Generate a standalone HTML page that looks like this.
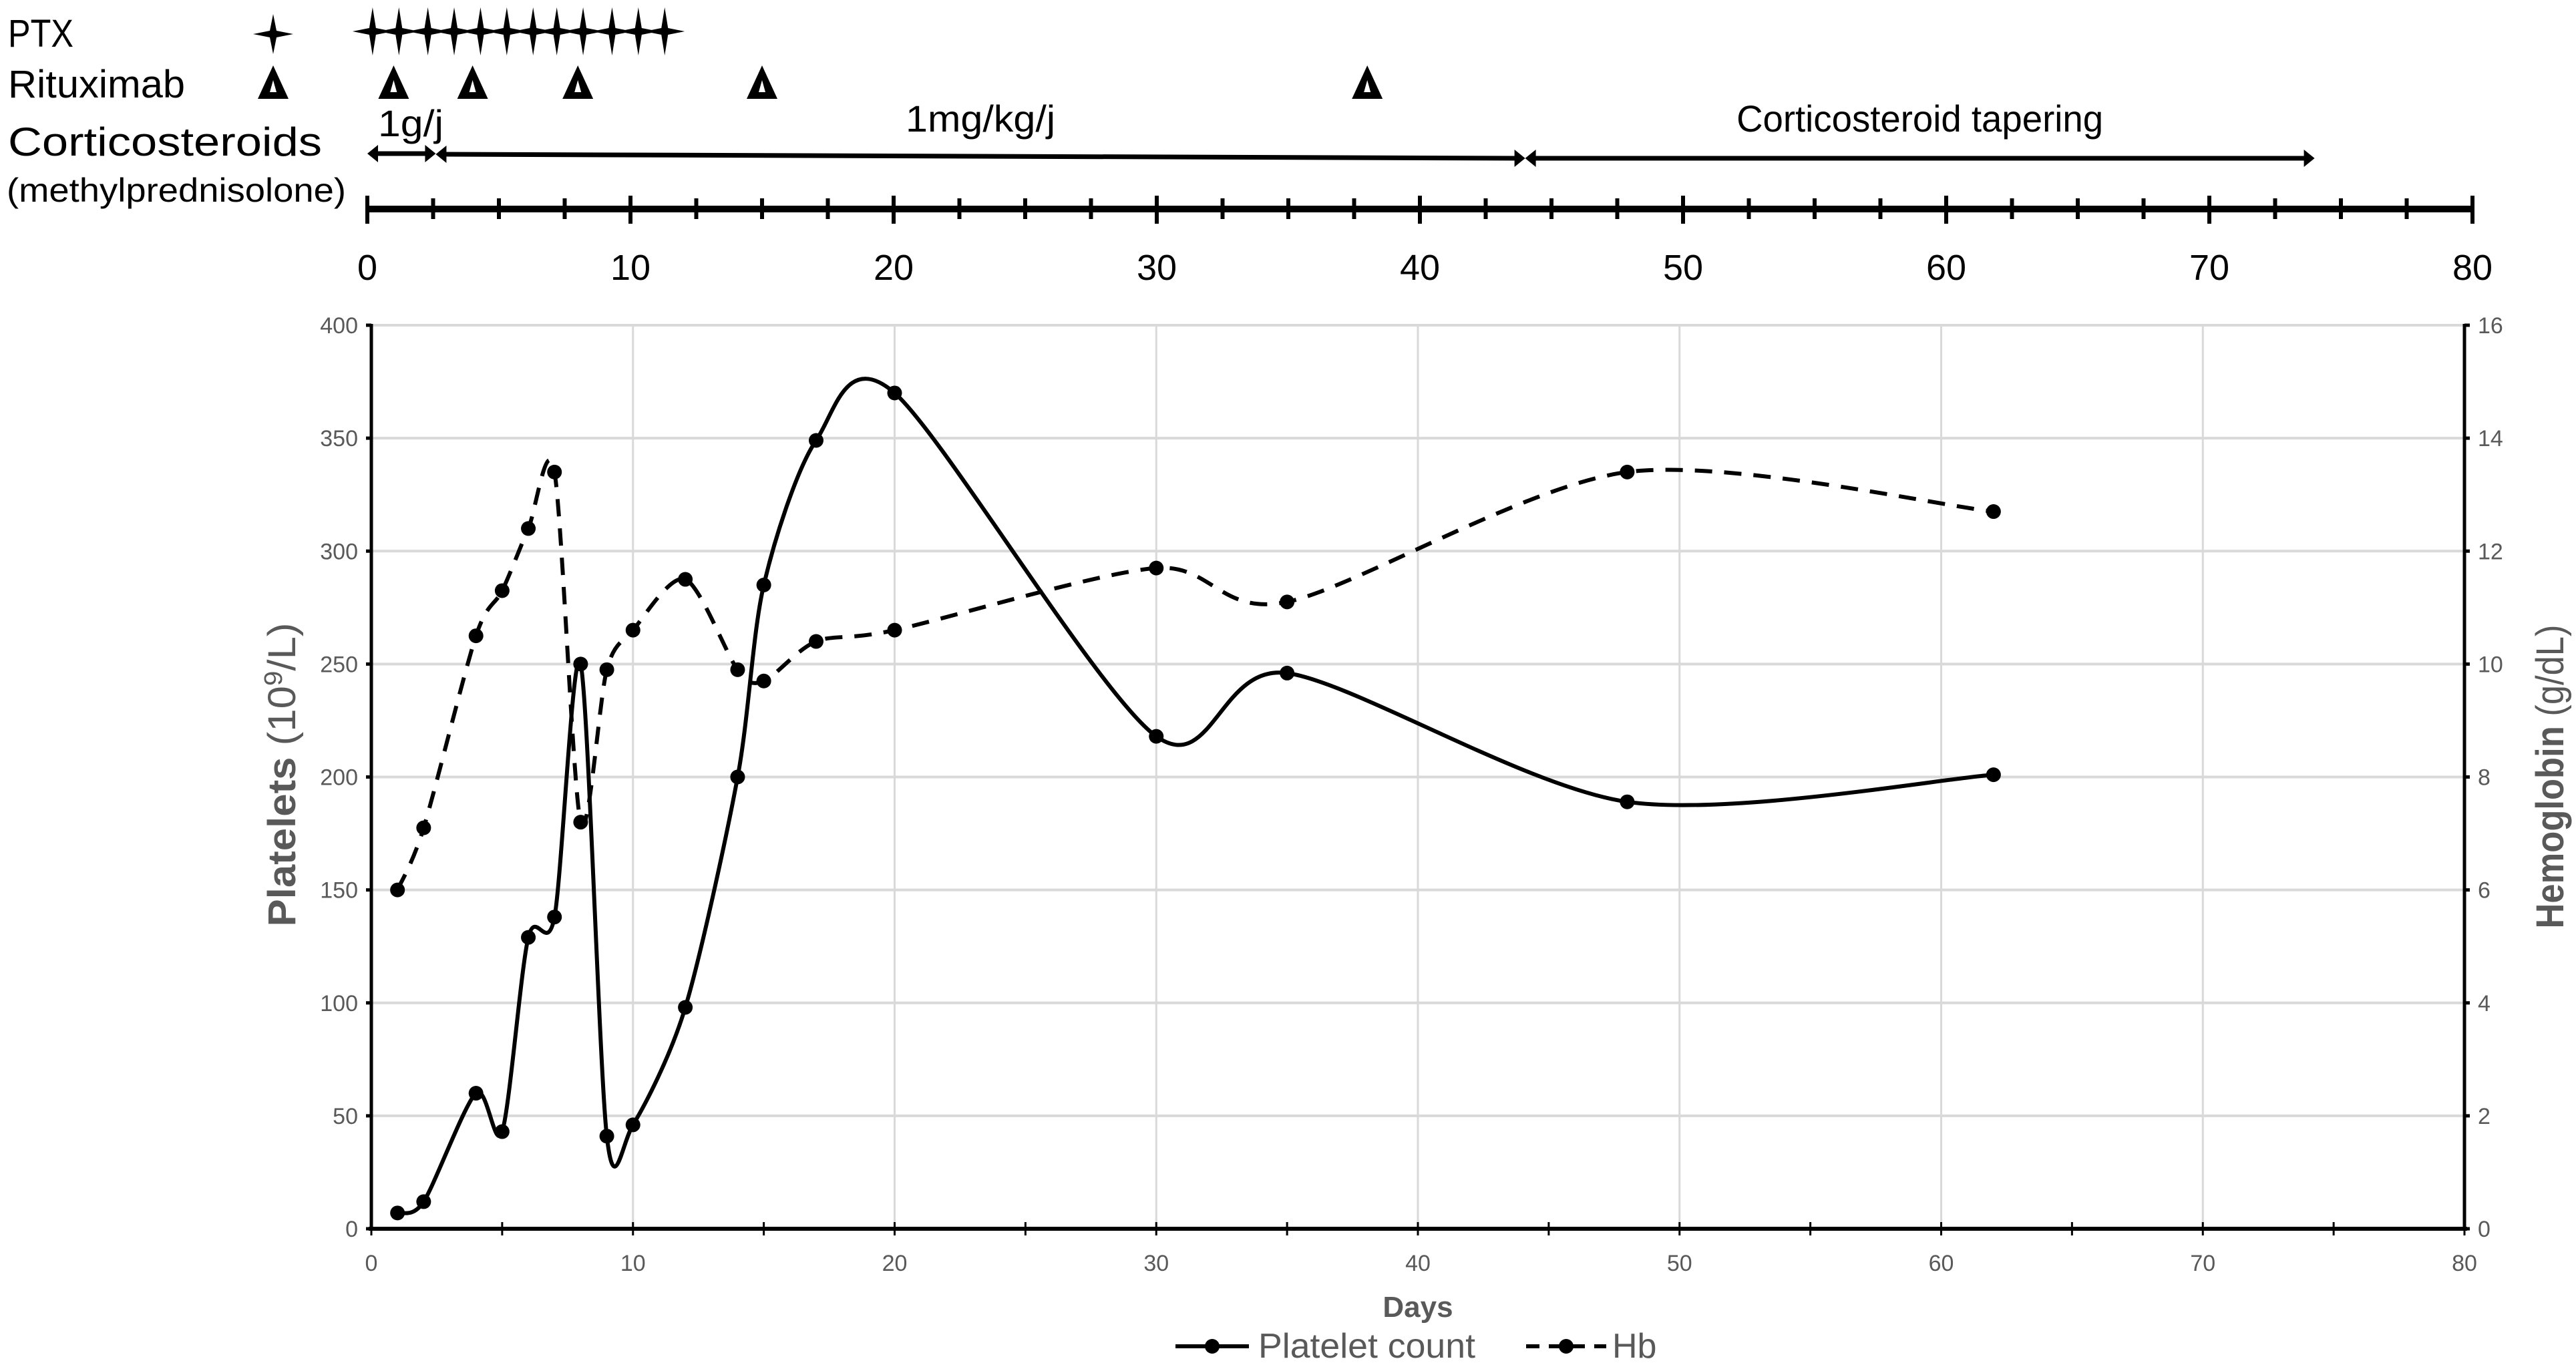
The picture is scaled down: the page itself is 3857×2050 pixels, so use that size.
<!DOCTYPE html>
<html><head><meta charset="utf-8">
<style>
html,body{margin:0;padding:0;background:#fff;}
svg{display:block;font-family:"Liberation Sans",sans-serif;}
</style></head>
<body>
<svg id="chart" width="3857" height="2050" viewBox="0 0 3857 2050" xmlns="http://www.w3.org/2000/svg">
<g id="topTimeline"></g>
<g id="mainChart"></g>
</svg>
<script>
const days = [1,2,4,5,6,7,8,9,10,12,14,15,17,20,30,35,48,62];
const platelets = [7,12,60,43,129,138,250,41,46,98,200,285,349,370,218,246,189,201];
const hb = [6,7.1,10.5,11.3,12.4,13.4,7.2,9.9,10.6,11.5,9.9,9.7,10.4,10.6,11.7,11.1,13.4,12.7];
const ptxDays = [0.2,1.2,2.3,3.3,4.3,5.3,6.3,7.2,8.2,9.3,10.3,11.3];
const rituximabDays = [1,4,8,15,38];
const steroidPhases = [[0,2.6,"1g/j"],[2.6,44,"1mg/kg/j"],[44,74,"Corticosteroid tapering"]];
const xTicks = [0,10,20,30,40,50,60,70,80];
const leftTicks = [0,50,100,150,200,250,300,350,400];
const rightTicks = [0,2,4,6,8,10,12,14,16];

const NS="http://www.w3.org/2000/svg";
function mk(parent,tag,attrs,text){const el=document.createElementNS(NS,tag);for(const k in attrs)el.setAttribute(k,attrs[k]);if(text!==undefined)el.textContent=text;parent.appendChild(el);return el;}
const topG=document.getElementById('topTimeline'), mainG=document.getElementById('mainChart');

// ---- Top timeline ----
const tx=d=>550+d*39.4;
let e;
e=mk(topG,'text',{x:12,y:70,'font-size':58,textLength:98,lengthAdjust:'spacingAndGlyphs'},'PTX');


e=mk(topG,'text',{x:12,y:146,'font-size':58,textLength:265,lengthAdjust:'spacingAndGlyphs'},'Rituximab');


e=mk(topG,'text',{x:12,y:233,'font-size':60,textLength:470,lengthAdjust:'spacingAndGlyphs'},'Corticosteroids');


e=mk(topG,'text',{x:10,y:302,'font-size':50,textLength:508,lengthAdjust:'spacingAndGlyphs'},'(methylprednisolone)');



function star(cx,cy,h,w){return `M${cx},${cy-h} L${cx+5},${cy-5} L${cx+w},${cy} L${cx+5},${cy+5} L${cx},${cy+h} L${cx-5},${cy+5} L${cx-w},${cy} L${cx-5},${cy-5}Z`;}
function tri(cx){return `M${cx},98 L${cx+23},148 L${cx-23},148Z M${cx},120 L${cx-5},138 L${cx+5},138Z`;}
e=mk(topG,'path',{d:star(409,51,30,30),fill:'#000'});


ptxDays.forEach(d=>{const s=mk(topG,'path',{d:star(tx(d),47,36,30),fill:'#000'});

});
e=mk(topG,'path',{d:tri(409),fill:'#000','fill-rule':'evenodd'});


rituximabDays.forEach(d=>{const s=mk(topG,'path',{d:tri(tx(d)),fill:'#000','fill-rule':'evenodd'});

});

const phaseLabelW=[98,224,549];
steroidPhases.forEach((p,i)=>{
  const x1=tx(p[0]),x2=tx(p[1]);
  const y1=i==0?230:(i==1?231:237), y2=i==0?230:237;
  const g=mk(topG,'g',{});
  
  
  mk(g,'line',{x1:x1+14,y1:y1,x2:x2-14,y2:y2,stroke:'#000','stroke-width':7});
  mk(g,'path',{d:`M${x1},${y1} L${x1+16},${y1-13} L${x1+16},${y1+13}Z`,fill:'#000'});
  mk(g,'path',{d:`M${x2},${y2} L${x2-16},${y2-13} L${x2-16},${y2+13}Z`,fill:'#000'});
  const lx=i==0?615:(x1+x2)/2;
  const t=mk(topG,'text',{x:lx,y:i==0?204:197,'font-size':56,'text-anchor':'middle',textLength:phaseLabelW[i],lengthAdjust:'spacingAndGlyphs'},p[2]);
  
  
});
e=mk(topG,'line',{x1:tx(0)-3,y1:313,x2:tx(80)+3,y2:313,stroke:'#000','stroke-width':10});


for(let d=0;d<=80;d+=2.5){
  const maj=d%10===0;
  const t=mk(topG,'line',{x1:tx(d),y1:maj?293:297,x2:tx(d),y2:maj?335:328,stroke:'#000','stroke-width':6});
  
  
}
xTicks.forEach(d=>{const t=mk(topG,'text',{x:tx(d),y:419,'font-size':54,'text-anchor':'middle'},String(d));

});

// ---- Main chart ----
const X0=556,X1=3690,Y0=1840,Y1=487;
const sx=d=>X0+d/80*(X1-X0);
const syL=v=>Y0-v/400*(Y0-Y1);
const syR=v=>Y0-v/16*(Y0-Y1);
xTicks.forEach(d=>{if(d>0){const l=mk(mainG,'line',{x1:sx(d),y1:Y1,x2:sx(d),y2:Y0,stroke:'#d9d9d9','stroke-width':3});

}});
leftTicks.forEach(v=>{if(v>0){const l=mk(mainG,'line',{x1:X0,y1:syL(v),x2:X1,y2:syL(v),stroke:'#d9d9d9','stroke-width':4});

}});
e=mk(mainG,'line',{x1:X0,y1:Y1-2,x2:X0,y2:Y0,stroke:'#000','stroke-width':5});


e=mk(mainG,'line',{x1:X1,y1:Y1-2,x2:X1,y2:Y0,stroke:'#000','stroke-width':5});


e=mk(mainG,'line',{x1:X0-4,y1:Y0,x2:X1+4,y2:Y0,stroke:'#000','stroke-width':6});


leftTicks.forEach(v=>{mk(mainG,'line',{x1:X0-8,y1:syL(v),x2:X0,y2:syL(v),stroke:'#000','stroke-width':5});
const t=mk(mainG,'text',{x:X0-20,y:syL(v)+12,'font-size':34,fill:'#595959','text-anchor':'end'},String(v));

});
rightTicks.forEach(v=>{mk(mainG,'line',{x1:X1,y1:syR(v),x2:X1+8,y2:syR(v),stroke:'#000','stroke-width':5});
const t=mk(mainG,'text',{x:X1+20,y:syR(v)+12,'font-size':34,fill:'#595959'},String(v));

});
for(let d=0;d<=80;d+=5){mk(mainG,'line',{x1:sx(d),y1:Y0-10,x2:sx(d),y2:Y0+10,stroke:'#000','stroke-width':3});}
xTicks.forEach(d=>{const t=mk(mainG,'text',{x:sx(d),y:1903,'font-size':34,fill:'#595959','text-anchor':'middle'},String(d));

});
e=mk(mainG,'text',{x:(X0+X1)/2,y:1972,'font-size':44,'font-weight':'bold',fill:'#595959','text-anchor':'middle'},'Days');


e=mk(mainG,'text',{transform:'translate(442,1160) rotate(-90)','font-size':58,fill:'#595959','text-anchor':'middle',textLength:455,lengthAdjust:'spacingAndGlyphs'});


mk(e,'tspan',{'font-weight':'bold'},'Platelets');
mk(e,'tspan',{},' (10');
mk(e,'tspan',{'font-size':38,dy:-20},'9');
mk(e,'tspan',{dy:20},'/L)');
e=mk(mainG,'text',{transform:'translate(3838,1163) rotate(-90)','font-size':58,fill:'#595959','text-anchor':'middle',textLength:455,lengthAdjust:'spacingAndGlyphs'});


mk(e,'tspan',{'font-weight':'bold'},'Hemoglobin');
mk(e,'tspan',{},' (g/dL)');

function smooth(pts){
  const k=7;
  let d=`M${pts[0][0]},${pts[0][1]}`;
  for(let i=0;i<pts.length-1;i++){
    const p0=pts[Math.max(0,i-1)],p1=pts[i],p2=pts[i+1],p3=pts[Math.min(pts.length-1,i+2)];
    const c1=[p1[0]+(p2[0]-p0[0])/k,p1[1]+(p2[1]-p0[1])/k];
    const c2=[p2[0]-(p3[0]-p1[0])/k,p2[1]-(p3[1]-p1[1])/k];
    d+=` C${c1[0]},${c1[1]} ${c2[0]},${c2[1]} ${p2[0]},${p2[1]}`;
  }
  return d;
}
const pPts=days.map((d,i)=>[sx(d),syL(platelets[i])]);
const hPts=days.map((d,i)=>[sx(d),syR(hb[i])]);
e=mk(mainG,'path',{d:smooth(hPts),fill:'none',stroke:'#000','stroke-width':6,'stroke-dasharray':'26 18'});


e=mk(mainG,'path',{d:smooth(pPts),fill:'none',stroke:'#000','stroke-width':6});


hPts.forEach(p=>{const c=mk(mainG,'circle',{cx:p[0],cy:p[1],r:11,fill:'#000'});

});
pPts.forEach(p=>{const c=mk(mainG,'circle',{cx:p[0],cy:p[1],r:11,fill:'#000'});

});

// legend
const lg=mk(mainG,'g',{});


const l1=mk(lg,'g',{});


mk(l1,'line',{x1:1760,y1:2016,x2:1870,y2:2016,stroke:'#000','stroke-width':6});
mk(l1,'circle',{cx:1815,cy:2016,r:11,fill:'#000'});
mk(l1,'text',{x:1884,y:2033,'font-size':52,fill:'#595959',textLength:325,lengthAdjust:'spacingAndGlyphs'},'Platelet count');
const l2=mk(lg,'g',{});


mk(l2,'line',{x1:2285,y1:2016,x2:2405,y2:2016,stroke:'#000','stroke-width':6,'stroke-dasharray':'20 14'});
mk(l2,'circle',{cx:2345,cy:2016,r:11,fill:'#000'});
mk(l2,'text',{x:2414,y:2033,'font-size':52,fill:'#595959'},'Hb');
</script>
</body></html>
